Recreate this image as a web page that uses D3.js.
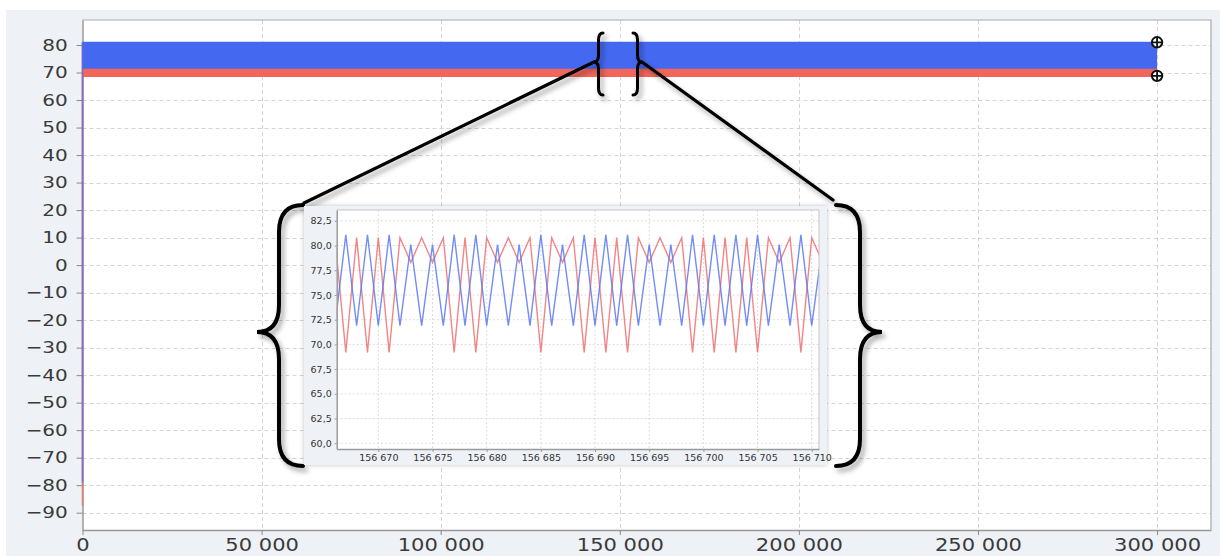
<!DOCTYPE html>
<html><head><meta charset="utf-8">
<script src="https://cdn.jsdelivr.net/npm/d3@7"></script>
<style>
html,body{margin:0;padding:0;background:#fff;}
svg{display:block;font-family:"DejaVu Sans",sans-serif;}
</style></head>
<body>
<svg id="chart" width="1220" height="556"></svg>
<script>
// ---------- data ----------
const mainXTicks = [0, 50000, 100000, 150000, 200000, 250000, 300000];
const mainYTicks = [-90,-80,-70,-60,-50,-40,-30,-20,-10,0,10,20,30,40,50,60,70,80];
const mainXExtent = [0, 300000];          // recorded range of both series
const redFirst = -87.5, blueFirst = -79.0; // first samples at x = 0
const redEnvelope = [68.4, 80.8];          // dense oscillation seen as a band
const blueEnvelope = [71.4, 81.2];
const redLast = 68.8, blueLast = 81.0;     // last samples (marked)

const insetX = [156666,156667,156668,156669,156670,156671,156672,156673,156674,156675,
  156676,156677,156678,156679,156680,156681,156682,156683,156684,156685,
  156686,156687,156688,156689,156690,156691,156692,156693,156694,156695,
  156696,156697,156698,156699,156700,156701,156702,156703,156704,156705,
  156706,156707,156708,156709,156710,156711];
const insetBlue = [71.9,81.1,71.9,81.1,71.9,81.1,71.9,80.1,71.9,80.1,
  71.9,81.1,71.9,81.1,71.9,80.1,71.9,80.1,71.9,81.1,
  71.9,80.1,71.9,81.1,71.9,81.1,71.9,81.1,71.9,80.1,
  71.9,80.1,71.9,81.1,71.9,81.1,71.9,81.1,71.9,81.1,
  71.9,80.1,71.9,81.1,71.9,80.1];
const insetRed = [80.8,69.2,80.8,69.2,80.8,69.2,80.8,78.3,80.8,78.3,
  80.8,69.2,80.8,69.2,80.8,78.3,80.8,78.3,80.8,69.2,
  80.8,78.3,80.8,69.2,80.8,69.2,80.8,69.2,80.8,78.3,
  80.8,78.3,80.8,69.2,80.8,69.2,80.8,69.2,80.8,69.2,
  80.8,78.3,80.8,69.2,80.8,78.3];
const insetXTicks = [156670,156675,156680,156685,156690,156695,156700,156705,156710];
const insetYTicks = [60,62.5,65,67.5,70,72.5,75,77.5,80,82.5];

// ---------- setup ----------
const BLUE = "#4468f0", RED = "#f2655b";
const locale = d3.formatLocale({decimal:",", thousands:" ", grouping:[3], currency:["",""], minus:"\u2212"});
const fmtInt = locale.format(",d");
const fmtDec = locale.format(".1f");

const svg = d3.select("#chart");
const defs = svg.append("defs");
const sh = defs.append("filter").attr("id","shadow").attr("x","-20%").attr("y","-20%").attr("width","140%").attr("height","140%");
sh.append("feDropShadow").attr("dx",3).attr("dy",4).attr("stdDeviation",2.5).attr("flood-color","#000").attr("flood-opacity",0.35);
const sh2 = defs.append("filter").attr("id","shadow2").attr("x","-10%").attr("y","-10%").attr("width","120%").attr("height","120%");
sh2.append("feDropShadow").attr("dx",0).attr("dy",0).attr("stdDeviation",2).attr("flood-color","#000").attr("flood-opacity",0.25);

svg.append("rect").attr("x",6).attr("y",10).attr("width",1214).attr("height",546).attr("fill","#eef2f7");

// main plot
const M = {l:82.5, r:1211, t:20, b:530};
const x = d3.scaleLinear().domain([0, 315060]).range([M.l, M.r]);
const y = d3.scaleLinear().domain([-96.3, 89.1]).range([M.b, M.t]);

svg.append("rect").attr("x",M.l).attr("y",M.t).attr("width",M.r-M.l).attr("height",M.b-M.t).attr("fill","#fff");

const grid = svg.append("g").attr("stroke","#d4d4d4").attr("stroke-width",1).attr("stroke-dasharray","4,3");
grid.selectAll("line.h").data(mainYTicks).join("line")
  .attr("x1",M.l).attr("x2",M.r).attr("y1",d=>Math.round(y(d))+0.5).attr("y2",d=>Math.round(y(d))+0.5);
grid.selectAll("line.v").data(mainXTicks.filter(d=>d>0)).join("line")
  .attr("y1",M.t).attr("y2",M.b).attr("x1",d=>Math.round(x(d))+0.5).attr("x2",d=>Math.round(x(d))+0.5);

// frame & axes
svg.append("path").attr("d",`M${M.l},${M.t}H${M.r}V${M.b}`).attr("fill","none").attr("stroke","#a8a8a8").attr("stroke-width",1.2);

const yAxis = svg.append("g").attr("transform",`translate(${M.l},0)`)
  .call(d3.axisLeft(y).tickValues(mainYTicks).tickSize(6).tickSizeOuter(0).tickFormat(fmtInt));
yAxis.select(".domain").attr("stroke","#999").attr("stroke-width",1.5);
yAxis.selectAll(".tick line").attr("stroke","#888");
yAxis.selectAll(".tick text").attr("x",-11.8).attr("transform","scale(1.25,1)")
  .attr("font-size",16).attr("fill","#3a3a3a").attr("font-family","DejaVu Sans");

const xAxis = svg.append("g").attr("transform",`translate(0,${M.b})`)
  .call(d3.axisBottom(x).tickValues(mainXTicks).tickSize(5).tickSizeOuter(0).tickFormat(fmtInt));
xAxis.select(".domain").attr("stroke","#999").attr("stroke-width",1.5);
xAxis.selectAll(".tick line").attr("stroke","#888");
xAxis.selectAll(".tick text").attr("y",21.5).attr("dy",0).attr("transform","scale(1.17,1)")
  .attr("font-size",18).attr("fill","#3a3a3a").attr("font-family","DejaVu Sans");

// series (red underneath, blue on top), drawn over the axis line
function drawSeries(first, env, color){
  const g = svg.append("g");
  g.append("path")
    .attr("d", d3.line().x(d=>x(d[0])).y(d=>y(d[1]))([[mainXExtent[0], first],[mainXExtent[0], env[1]]]))
    .attr("stroke", color).attr("stroke-width",1.8).attr("fill","none").attr("opacity",0.6);
  g.append("path")
    .attr("d", d3.area().x(d=>x(d)).y0(y(env[0])).y1(y(env[1]))(mainXExtent))
    .attr("fill", color);
}
drawSeries(redFirst, redEnvelope, RED);
drawSeries(blueFirst, blueEnvelope, BLUE);

// end markers
const markers = svg.append("g").selectAll("g").data([redLast, blueLast]).join("g")
  .attr("transform", d=>`translate(${x(mainXExtent[1])},${y(d)})`);
markers.append("circle").attr("r",5.2).attr("fill","#fff").attr("stroke","#111").attr("stroke-width",2);
markers.append("path").attr("d","M-5.2,0H5.2M0,-5.2V5.2").attr("stroke","#111").attr("stroke-width",1.8);

// ---------- zoom annotation ----------
function brace(xe, xm, xt, y0, ym, y1, r){
  return `M${xe},${y0}Q${xm},${y0} ${xm},${y0+r}L${xm},${ym-r}Q${xm},${ym} ${xt},${ym}`+
         `Q${xm},${ym} ${xm},${ym+r}L${xm},${y1-r}Q${xm},${y1} ${xe},${y1}`;
}
const ann = svg.append("g").attr("filter","url(#shadow)").attr("fill","none").attr("stroke","#000").attr("stroke-linecap","round");
ann.append("path").attr("d",brace(603,598.5,594,33,62,95,7)).attr("stroke-width",3);
ann.append("path").attr("d",brace(633,637.5,642,33,62,95,7)).attr("stroke-width",3);
ann.append("line").attr("x1",594).attr("y1",62).attr("x2",304).attr("y2",203).attr("stroke-width",3.2);
ann.append("line").attr("x1",642).attr("y1",62).attr("x2",833).attr("y2",200).attr("stroke-width",3.2);
ann.append("path").attr("d",brace(303,279,257,205,332,466,27)).attr("stroke-width",4);
ann.append("path").attr("d",brace(836,860,882,205,332,466,27)).attr("stroke-width",4);

// ---------- inset ----------
const I = {l:336.7, r:819, t:210, b:449};
const ix = d3.scaleLinear().domain([156666.16, 156710.67]).range([I.l, I.r]);
const iy = d3.scaleLinear().domain([59.42, 83.6]).range([I.b, I.t]);
const inset = svg.append("g");
inset.append("rect").attr("x",304).attr("y",206).attr("width",523).attr("height",259).attr("fill","#eef2f7").attr("filter","url(#shadow2)");
inset.append("rect").attr("x",I.l).attr("y",I.t).attr("width",I.r-I.l).attr("height",I.b-I.t).attr("fill","#fff");
defs.append("clipPath").attr("id","iclip").append("rect").attr("x",I.l).attr("y",I.t).attr("width",I.r-I.l).attr("height",I.b-I.t);

const ig = inset.append("g").attr("stroke","#dcdcdc").attr("stroke-dasharray","2,2");
ig.selectAll("line.h").data(insetYTicks).join("line").attr("x1",I.l).attr("x2",I.r).attr("y1",d=>iy(d)).attr("y2",d=>iy(d));
ig.selectAll("line.v").data(insetXTicks).join("line").attr("y1",I.t).attr("y2",I.b).attr("x1",d=>ix(d)).attr("x2",d=>ix(d));

const iline = d3.line().x((d,i)=>ix(insetX[i])).y(d=>iy(d));
const il = inset.append("g").attr("clip-path","url(#iclip)").attr("fill","none").attr("stroke-width",1.4).attr("stroke-linejoin","miter");
il.append("path").attr("d",iline(insetRed)).attr("stroke","#f07070").attr("opacity",0.85);
il.append("path").attr("d",iline(insetBlue)).attr("stroke","#5a78f4").attr("opacity",0.85);

inset.append("path").attr("d",`M${I.l},${I.t}H${I.r}V${I.b}`).attr("fill","none").attr("stroke","#c4c4c4");
const iya = inset.append("g").attr("transform",`translate(${I.l},0)`)
  .call(d3.axisLeft(iy).tickValues(insetYTicks).tickSize(2).tickPadding(3).tickSizeOuter(0).tickFormat(fmtDec));
const ixa = inset.append("g").attr("transform",`translate(0,${I.b})`)
  .call(d3.axisBottom(ix).tickValues(insetXTicks).tickSize(3).tickPadding(2).tickSizeOuter(0).tickFormat(fmtInt));
[iya, ixa].forEach(a=>{
  a.select(".domain").attr("stroke","#9a9a9a").attr("stroke-width",1.5);
  a.selectAll(".tick line").attr("stroke","#999");
  a.selectAll(".tick text").attr("font-size",9.5).attr("fill","#333").attr("font-family","DejaVu Sans");
});
</script>
</body></html>
